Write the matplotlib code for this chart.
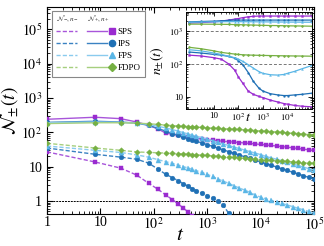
import numpy as np
import matplotlib
matplotlib.use("Agg")
import matplotlib.pyplot as plt
from matplotlib.lines import Line2D
from matplotlib.text import Text
from matplotlib.legend_handler import HandlerBase, HandlerLine2D
from matplotlib.ticker import FuncFormatter, LogLocator, NullFormatter

plt.rcParams['font.family'] = ['Liberation Serif', 'DejaVu Serif']
plt.rcParams['mathtext.fontset'] = 'stix'

# ---- data ----
methods = ['SPS', 'IPS', 'FPS', 'FDPO']

t_main = [1, 8, 24, 48, 80, 120, 168, 224, 288, 360, 440, 528, 624, 800, 1000,
          1260, 1580, 2000, 2510, 3160, 3980, 5010, 6310, 7940, 10000, 12600,
          15800, 20000, 25100, 31600, 39800, 50100, 63100, 79400, 100000]

nan = np.nan
# N_+ (solid)
Np_sps = [240, 275, 250, 200, 160, 125, 95, 88, 82, 77, 73, 70, 67, 64, 61, 59,
          57, 55, 53.5, 52, 50.5, 49, 47.5, 46, 44.5, 43, 41.5, 40, 38.5, 37,
          35.5, 34, 32.5, 31, 30]
Np_ips = [195, 210, 200, 185, 160, 130, 108, 92, 81, 72, 66, 60, 55, 49, 44, 39,
          35, 31, 27.5, 24.5, 22, 19.5, 17.5, 15.5, 13.8, 12.3, 11, 9.8, 8.7, 7.8,
          6.9, 6.2, 5.5, 4.9, 4.4]
Np_fps = [190, 200, 195, 185, 170, 150, 135, 120, 108, 98, 90, 83, 77, 70, 63,
          57, 51, 46, 41.5, 37.5, 34, 30.5, 27.5, 25, 22.5, 20, 18, 16.5, 15,
          13.5, 12, 11, 9.8, 8.8, 7.9]
Np_fdpo = [180, 190, 190, 185, 178, 170, 162, 157, 153, 150, 147, 145, 142, 139,
           136, 133, 131, 128, 126, 123, 121, 118, 116, 113, 110, 108, 105, 103,
           100, 97, 94, 92, 89, 86, 83]
# N_- (dashed)
Nm_sps = [27, 13.7, 9.1, 5.7, 3.3, 2.2, 1.5, 1.1, 0.82, 0.62, 0.48, 0.37, nan,
          nan, nan, nan, nan, nan, nan, nan, nan, nan, nan, nan, nan, nan, nan,
          nan, nan, nan, nan, nan, nan, nan, nan]
Nm_ips = [35, 23, 19, 16.5, 12.7, 8.5, 6, 4.8, 3.9, 3.2, 2.7, 2.3, 2.0, 1.7,
          1.45, 1.2, 1.0, 0.75, 0.45, 0.25, nan, nan, nan, nan, nan, nan, nan,
          nan, nan, nan, nan, nan, nan, nan, nan]
Nm_fps = [40, 30, 26, 22, 19, 16, 14, 12.5, 11.2, 10, 9.2, 8.4, 7.7, 6.8, 6.0,
          5.2, 4.4, 3.8, 3.3, 2.8, 2.4, 2.1, 1.8, 1.5, 1.3, 1.17, 1.05, 0.95,
          0.85, 0.77, 0.69, 0.62, 0.56, 0.5, 0.45]
Nm_fdpo = [48, 35, 30, 27, 26, 25.5, 25, 24.5, 24, 23.5, 23, 22.6, 22.2, 21.7,
           21.2, 20.7, 20.2, 19.7, 19.2, 18.7, 18.2, 17.7, 17.2, 16.7, 16.2,
           15.8, 15.4, 15.0, 14.6, 14.2, 13.8, 13.5, 13.2, 12.9, 12.6]

t_ins = [1, 3, 10, 20, 40, 70, 100, 150, 250, 400, 700, 1000, 2000, 4000, 7000,
         10000, 20000, 40000, 100000]
np_sps = [1750, 1800, 1900, 2000, 2150, 2300, 2400, 2550, 2700, 2800, 2850, 2850,
          2850, 2850, 2850, 2850, 2850, 2850, 2850]
np_ips = [1900, 1950, 2000, 2050, 2100, 2150, 2150, 2150, 2150, 2150, 2150, 2150,
          2150, 2150, 2150, 2150, 2150, 2150, 2150]
np_fps = [1850, 1880, 1900, 1920, 1930, 1930, 1930, 1920, 1920, 1910, 1900, 1900,
          1890, 1880, 1880, 1870, 1870, 1860, 1850]
np_fdpo = [1620, 1620, 1610, 1600, 1590, 1570, 1560, 1550, 1530, 1520, 1500, 1490,
           1470, 1460, 1450, 1440, 1430, 1420, 1400]
nm_sps = [185, 175, 155, 140, 100, 65, 40, 26, 15, 12, 10.3, 9.5, 8, 7, 6.3, 6,
          5.5, 5.2, 5]
nm_ips = [230, 215, 195, 185, 170, 150, 125, 95, 55, 30, 18, 15, 12.5, 11.5, 11,
          11, 11.5, 12, 13]
nm_fps = [270, 250, 215, 195, 170, 155, 140, 120, 95, 75, 58, 52, 47, 46, 48, 52,
          60, 72, 90]
nm_fdpo = [320, 290, 250, 225, 210, 200, 195, 190, 187, 185, 183, 182, 180, 178,
           177, 176, 175, 174, 172]

Np_all = [Np_sps, Np_ips, Np_fps, Np_fdpo]
Nm_all = [Nm_sps, Nm_ips, Nm_fps, Nm_fdpo]
np_all = [np_sps, np_ips, np_fps, np_fdpo]
nm_all = [nm_sps, nm_ips, nm_fps, nm_fdpo]

mark_col = ['#9A2BD0', '#1F70B5', '#5AB6E6', '#76B043']
line_col = ['#A855DA', '#3A82C2', '#8ACBEE', '#A6CF7E']
markers = ['s', 'o', '^', 'D']
msize = [3.2, 3.4, 3.6, 2.8]


def pow_fmt(v, pos):
    e = int(round(np.log10(v)))
    if e == 0:
        return '1'
    if e == 1:
        return '10'
    return r'$10^{%d}$' % e


class LineThenMarker(HandlerLine2D):
    """line on the left part of the handle, marker at its right end"""
    def create_artists(self, legend, orig_handle, xdescent, ydescent, width,
                       height, fontsize, trans):
        y = (height - ydescent) / 2
        x0 = -xdescent
        x1 = width - xdescent
        line = Line2D([x0, x0 + 0.8 * (x1 - x0)], [y, y])
        self.update_prop(line, orig_handle, legend)
        line.set_marker('')
        mark = Line2D([x1], [y])
        self.update_prop(mark, orig_handle, legend)
        mark.set_linestyle('')
        line.set_transform(trans)
        mark.set_transform(trans)
        return [line, mark]


class HeaderHandler(HandlerBase):
    def __init__(self, text):
        super().__init__()
        self.text = text

    def create_artists(self, legend, orig_handle, xdescent, ydescent, width,
                       height, fontsize, trans):
        txt = Text(-xdescent, (height - ydescent) / 2, self.text,
                   fontsize=fontsize * 0.8, va='center', ha='left', color='#333333')
        txt.set_transform(trans)
        return [txt]


fig = plt.figure(figsize=(3.24, 2.46), dpi=100)
ax = fig.add_axes([0.145, 0.130, 0.824, 0.841])

for i in range(4):
    ax.plot(t_main, Np_all[i], '-', color=line_col[i], lw=1.0, marker=markers[i],
            ms=msize[i], mfc=mark_col[i], mec=mark_col[i], mew=0.3, zorder=3)
    ax.plot(t_main, Nm_all[i], '--', color=line_col[i], lw=1.0, dashes=(3, 1.5),
            marker=markers[i], ms=msize[i], mfc=mark_col[i], mec=mark_col[i],
            mew=0.3, zorder=3)
ax.axhline(1, color='k', ls=(0, (2, 1)), lw=0.7, zorder=2)

ax.set_xscale('log')
ax.set_yscale('log')
ax.set_xlim(1, 1e5)
ax.set_ylim(0.42, 4.4e5)
for axis in (ax.xaxis, ax.yaxis):
    axis.set_major_locator(LogLocator(base=10, numticks=12))
    axis.set_minor_locator(LogLocator(base=10, subs=np.arange(2, 10), numticks=12))
    axis.set_major_formatter(FuncFormatter(pow_fmt))
    axis.set_minor_formatter(NullFormatter())
ax.tick_params(which='both', direction='in', top=True, right=True, labelsize=10)
ax.tick_params(which='major', length=4, width=0.8)
ax.tick_params(which='minor', length=2, width=0.6)
ax.tick_params(axis='x', pad=1.5)
ax.set_xlabel(r'$t$', fontsize=15, labelpad=-5)
ax.set_ylabel(r'$\mathcal{N}_{\pm}(t)$', fontsize=14, labelpad=0)

# legend: two columns, dashed (N-, n-) | solid + marker (N+, n+)
hdr_m = Line2D([], [])
hdr_p = Line2D([], [])
dashed_h = [Line2D([], [], color=line_col[i], ls='--', dashes=(3, 1.5), lw=1.0)
            for i in range(4)]
solid_h = [Line2D([], [], color=line_col[i], ls='-', lw=1.0, marker=markers[i],
                  ms=4.5, mfc=mark_col[i], mec=mark_col[i]) for i in range(4)]
hmap = {hdr_m: HeaderHandler(r'$\mathcal{N}_{-}, n_{-}$'),
        hdr_p: HeaderHandler(r'$\mathcal{N}_{+}, n_{+}$')}
for h in dashed_h + solid_h:
    hmap[h] = LineThenMarker()
leg = ax.legend([hdr_m] + dashed_h + [hdr_p] + solid_h,
                [''] * 5 + [''] + methods, ncol=2, handler_map=hmap,
                loc='upper left', bbox_to_anchor=(0.018, 0.982), borderaxespad=0,
                fontsize=6.5, handlelength=2.8, handletextpad=0.6,
                columnspacing=0.0, labelspacing=0.42, borderpad=0.5,
                fancybox=False, framealpha=1, edgecolor='#888888')
leg.get_frame().set_linewidth(0.8)

# inset
ins = fig.add_axes([0.574, 0.557, 0.389, 0.394])
for i in range(4):
    ins.plot(t_ins, np_all[i], '-', color=mark_col[i], lw=0.9, marker=markers[i],
             ms=1.4, mfc=mark_col[i], mec=mark_col[i], mew=0.2)
    ins.plot(t_ins, nm_all[i], '-', color=mark_col[i], lw=0.9, marker=markers[i],
             ms=1.4, mfc=mark_col[i], mec=mark_col[i], mew=0.2)
ins.axhline(1e3, color='#777777', ls=(0, (3, 2)), lw=0.7, zorder=0)
ins.axhline(1e2, color='#777777', ls=(0, (3, 2)), lw=0.7, zorder=0)
ins.set_xscale('log')
ins.set_yscale('log')
ins.set_xlim(0.72, 1e5)
ins.set_ylim(4.3, 3770)
ins.set_xticks([10, 1e2, 1e3, 1e4])
ins.xaxis.set_minor_locator(LogLocator(base=10, subs=np.arange(2, 10), numticks=12))
ins.yaxis.set_major_locator(LogLocator(base=10, numticks=12))
ins.yaxis.set_minor_locator(LogLocator(base=10, subs=np.arange(2, 10), numticks=12))
for axis in (ins.xaxis, ins.yaxis):
    axis.set_major_formatter(FuncFormatter(pow_fmt))
    axis.set_minor_formatter(NullFormatter())
ins.tick_params(which='both', direction='in', top=True, right=True, labelsize=6.5,
                pad=2)
ins.tick_params(which='major', length=3, width=0.6)
ins.tick_params(which='minor', length=1.5, width=0.5)
for s in ins.spines.values():
    s.set_linewidth(0.7)
ins.set_xlabel(r'$t$', fontsize=10)
ins.xaxis.set_label_coords(0.49, -0.025)
ins.set_ylabel(r'$n_{\pm}(t)$', fontsize=10, labelpad=2)

fig.savefig('out.png', dpi=100)
